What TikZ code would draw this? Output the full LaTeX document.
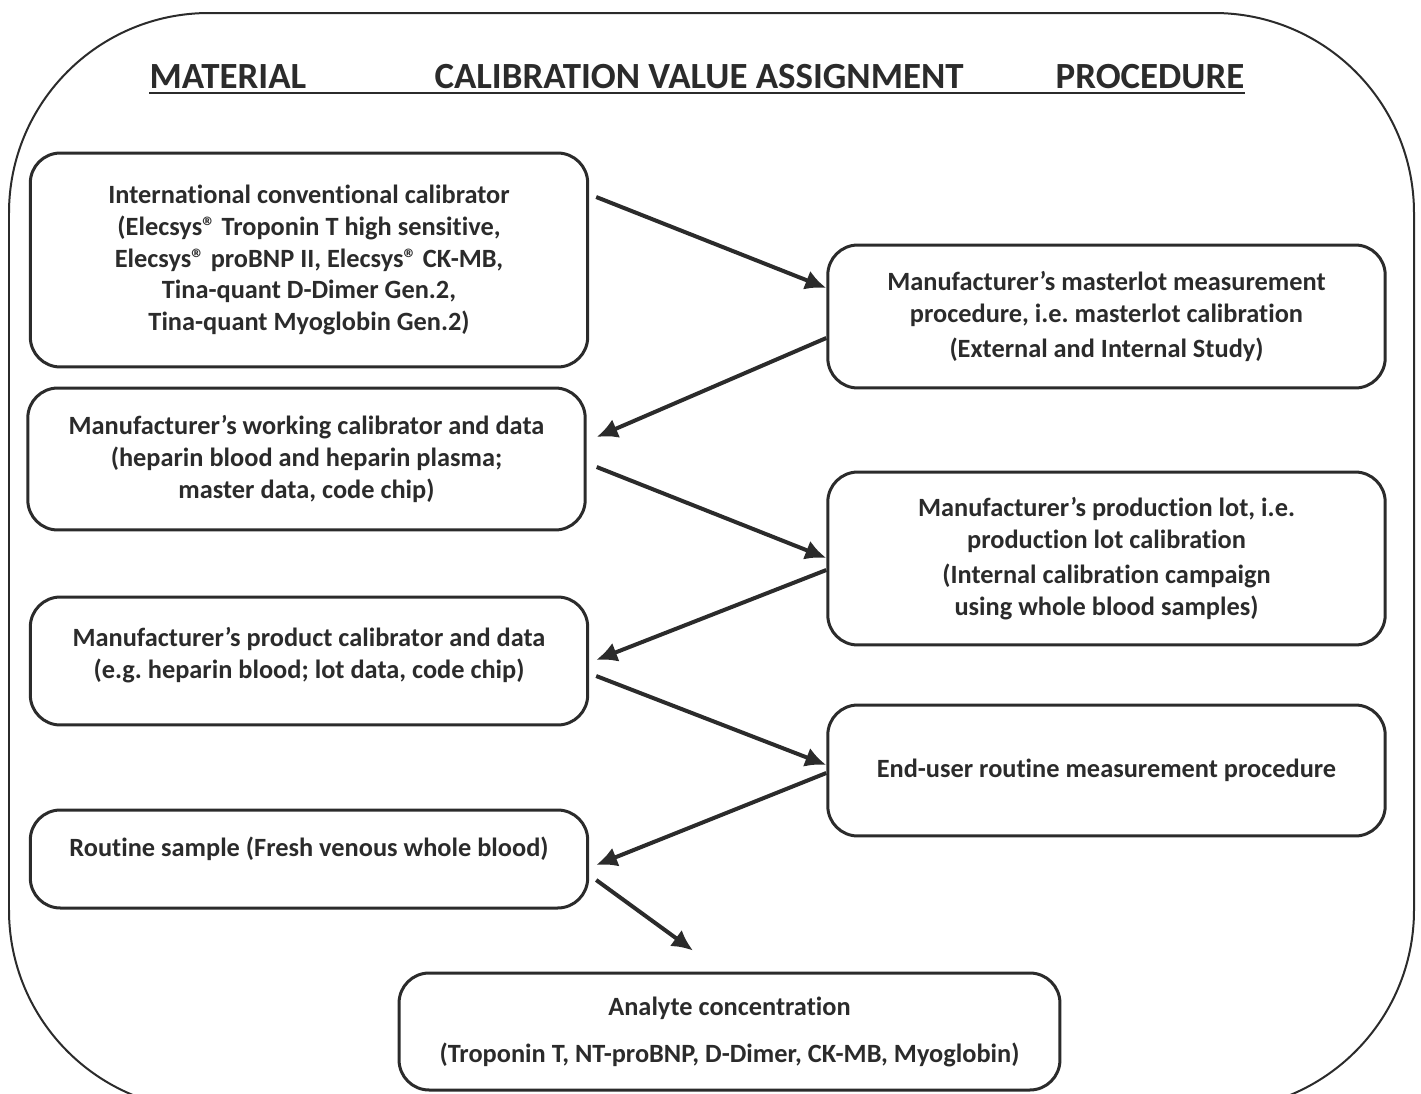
\documentclass[tikz,border=0pt]{standalone}
\usepackage{fontspec}
\setmainfont{Carlito}[Ligatures={NoCommon}]
\usetikzlibrary{arrows.meta}
\definecolor{ink}{HTML}{2B2B2B}
\frenchspacing
\tikzset{
  box/.style={draw=ink, line width=0.06cm, rounded corners=0.6cm, align=center,
    text=ink, inner sep=0pt, minimum width=11.15cm,
    font=\bfseries\fontsize{15}{18.2}\selectfont},
  flow/.style={draw=ink, line width=0.08cm, -{Latex[length=0.42cm,width=0.4cm]}},
  head/.style={text=ink, inner sep=0pt, anchor=base,
    font=\bfseries\fontsize{21}{24}\selectfont},
}
\begin{document}
\begin{tikzpicture}[x=0.02cm, y=-0.02cm]
  \useasboundingbox (0,0) rectangle (1421,1093);
  \clip (0,0) rectangle (1421,1093);
  \draw [ink, line width=0.04cm, rounded corners=4cm] (9,13) rectangle (1414,1110);

  \node [head] (mat) at (228,88) {MATERIAL};
  \node [head] (cva) at (699,88) {CALIBRATION VALUE ASSIGNMENT};
  \node [head] (proc) at (1150,88) {PROCEDURE};
  \draw [ink, line width=0.05cm] ([yshift=-0.1cm]mat.base west) -- ([yshift=-0.1cm]proc.base east);

  \node [box, minimum height=4.28cm] (icc) at (309,260)
    {International conventional calibrator\\(Elecsys® Troponin T high sensitive,\\
     Elecsys® proBNP II, Elecsys® CK-MB,\\
     Tina-quant D-Dimer Gen.2,\\Tina-quant Myoglobin Gen.2)};
  \node [box, minimum height=2.86cm] (mlot) at (1106.5,316.5)
    {Manufacturer’s masterlot measurement\\procedure, i.e. masterlot calibration\\[2pt]
     (External and Internal Study)};
  \node [box, minimum height=2.84cm] (wcal) at (306.5,459)
    {Manufacturer’s working calibrator and data\\(heparin blood and heparin plasma;\\
     master data, code chip)};
  \node [box, minimum height=3.46cm] (plot) at (1106.5,558.5)
    {Manufacturer’s production lot, i.e.\\production lot calibration\\[2pt]
     (Internal calibration campaign\\using whole blood samples)};
  \node [box, minimum height=2.56cm] (pcal) at (309,661)
    {Manufacturer’s product calibrator and data\\(e.g. heparin blood; lot data, code chip)\\[-9pt]\mbox{}};
  \node [box, minimum height=2.62cm] (user) at (1106.5,770.5)
    {End-user routine measurement procedure};
  \node [box, minimum height=1.96cm] (rsmp) at (309,859)
    {Routine sample (Fresh venous whole blood)\\[-4pt]\mbox{}};
  \node [box, minimum height=2.34cm, minimum width=13.22cm] (conc) at (729.5,1031.5)
    {Analyte concentration\\[0.3cm](Troponin T, NT-proBNP, D-Dimer, CK-MB, Myoglobin)};

  \draw [flow] ([shift={(7,-63)}]icc.east) -- ([shift={(0,-28.5)}]mlot.west);
  \draw [flow] ([shift={(0,21.5)}]mlot.west) -- ([shift={(10,-22)}]wcal.east);
  \draw [flow] ([shift={(10,8)}]wcal.east) -- ([shift={(0,-0.5)}]plot.west);
  \draw [flow] ([shift={(0,11.5)}]plot.west) -- ([shift={(7,-1)}]pcal.east);
  \draw [flow] ([shift={(7,15)}]pcal.east) -- ([shift={(0,-5.5)}]user.west);
  \draw [flow] ([shift={(0,2.5)}]user.west) -- ([shift={(7,6)}]rsmp.east);
  \draw [flow] ([shift={(7,21)}]rsmp.east) -- ([shift={(-36.5,-21)}]conc.north);
\end{tikzpicture}
\end{document}
